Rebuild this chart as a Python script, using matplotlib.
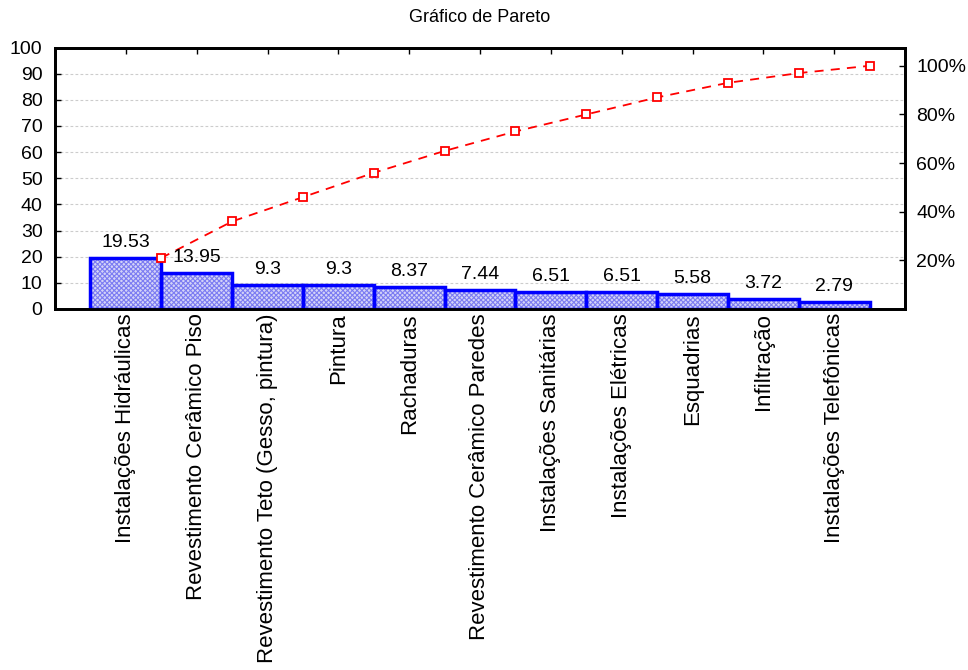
import matplotlib
matplotlib.use("Agg")
import matplotlib.pyplot as plt
import numpy as np
from matplotlib.ticker import FuncFormatter

categories = ["Instalações Hidráulicas", "Revestimento Cerâmico Piso",
              "Revestimento Teto (Gesso, pintura)", "Pintura", "Rachaduras",
              "Revestimento Cerâmico Paredes", "Instalações Sanitárias",
              "Instalações Elétricas", "Esquadrias", "Infiltração",
              "Instalações Telefônicas"]
values = [19.53, 13.95, 9.3, 9.3, 8.37, 7.44, 6.51, 6.51, 5.58, 3.72, 2.79]
left_ticks = [0, 10, 20, 30, 40, 50, 60, 70, 80, 90, 100]
right_ticks = [20, 40, 60, 80, 100]
title = "Gráfico de Pareto"

plt.rcParams['font.family'] = ['Liberation Sans', 'DejaVu Sans']
plt.rcParams['hatch.linewidth'] = 0.8

fig = plt.figure(figsize=(9.68, 6.70), dpi=100)
ax = fig.add_axes([55/968, 1-309/670, (905-55)/968, (309-47.5)/670])

x = np.arange(len(values))
cum = np.cumsum(values)
total = cum[-1]

ax.bar(x, values, width=1.0, facecolor='#d4d4f8', edgecolor='#7c7cf2',
       hatch='xxxxxxx', linewidth=0, zorder=2)
ax.bar(x, values, width=1.0, facecolor='none', edgecolor='#0000ff',
       linewidth=2.5, zorder=3)

for xi, v in zip(x, values):
    ax.annotate(f"{v:g}", (xi, v), xytext=(0, 5), textcoords='offset points',
                ha='center', va='bottom', fontsize=14, zorder=5)

ax.plot(x + 0.5, cum, color='#ff0000', linestyle=(0, (5, 4)), linewidth=1.3,
        marker='s', markersize=5.5, markerfacecolor='white',
        markeredgecolor='#ff0000', markeredgewidth=1.3, zorder=4, clip_on=False)

ax.set_xlim(-1, 11)
ax.set_ylim(0, 100)
ax.set_yticks(left_ticks)
ax.set_xticks(x)
ax.set_xticklabels(categories, rotation=90, fontsize=16)
ax.tick_params(axis='y', direction='in', length=4, width=1, labelsize=14, pad=9)
ax.tick_params(axis='x', direction='in', length=4, width=1, pad=3, top=True)
for gy in left_ticks[1:-1]:
    ax.axhline(gy, color='#cccccc', linestyle=(0, (2.5, 2)), linewidth=0.8, zorder=1)
for s in ax.spines.values():
    s.set_linewidth(2)

ax2 = ax.twinx()
ax2.set_ylim(0, 100 * 100 / total)
ax2.set_yticks(right_ticks)
ax2.yaxis.set_major_formatter(FuncFormatter(lambda v, p: f"{v:.0f}%"))
ax2.tick_params(axis='y', direction='in', length=4, width=1, labelsize=14, pad=8)
for s in ax2.spines.values():
    s.set_linewidth(2)

fig.text((55 + 905) / 2 / 968, 1 - 18 / 670, title, ha='center', va='center', fontsize=13)

fig.savefig("out.png", dpi=100)
